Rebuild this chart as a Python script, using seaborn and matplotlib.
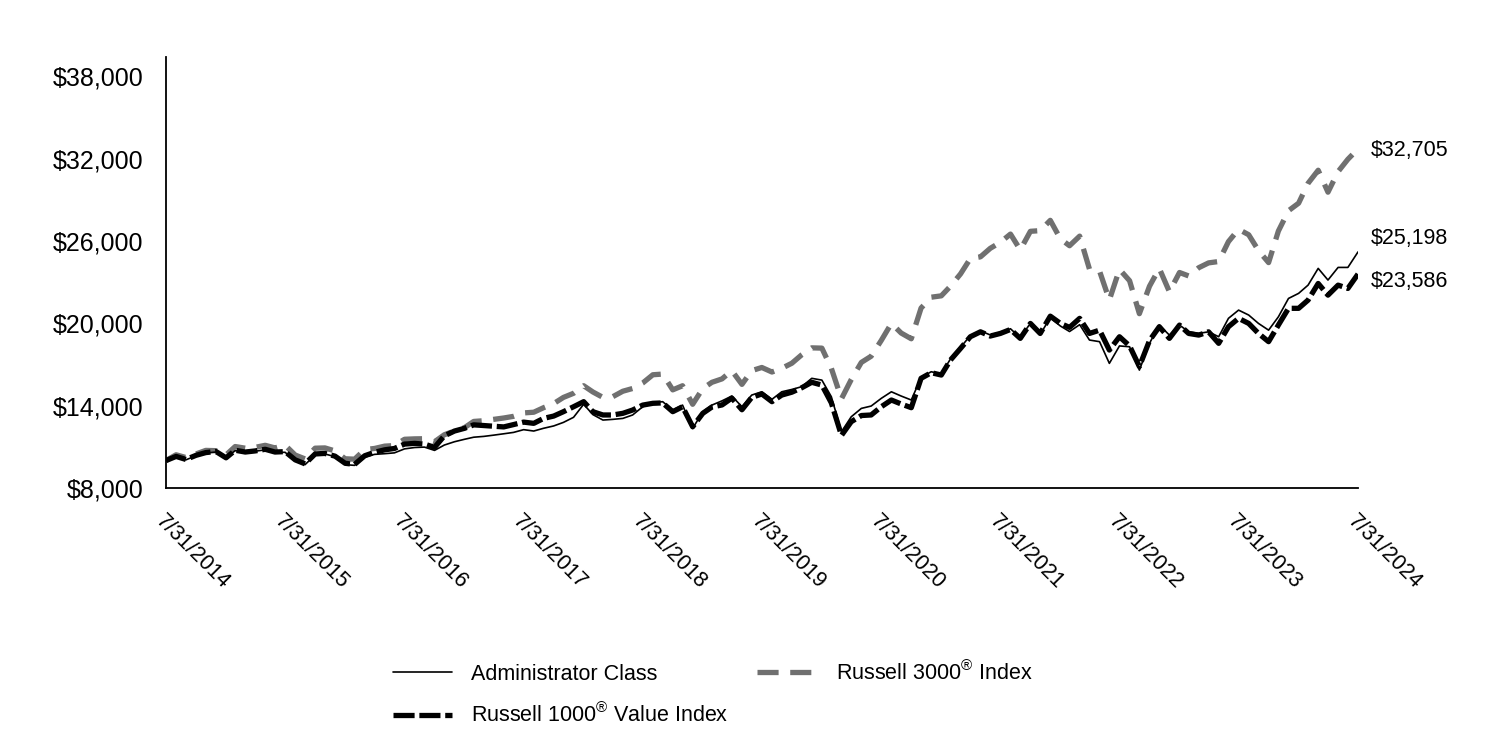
import numpy as np
import pandas as pd
import matplotlib
matplotlib.use("Agg")
import matplotlib.pyplot as plt
from matplotlib.lines import Line2D
import seaborn as sns

# ---------------- data (growth of $10,000, month-end values) ----------------
start_date = "2014-07-31"
end_date = "2024-07-31"

admin_class = [
    10000, 10250, 10050, 10350, 10550, 10620, 10200, 10720, 10600, 10680, 10780, 10600, 10600,
    9980, 9700, 10400, 10480, 10280, 9700, 9650, 10250, 10450, 10500, 10560, 10850,
    10950, 10980, 10740, 11130, 11370, 11550, 11700, 11760, 11850, 11950, 12050, 12250,
    12150, 12350, 12520, 12780, 13150, 14100, 13350, 12950, 13000, 13070, 13320, 13920,
    14200, 14290, 13680, 14040, 12340, 13560, 14040, 14350, 14700, 13920, 14770, 15010,
    14460, 15010, 15180, 15380, 15990, 15860, 14650, 12100, 13190, 13800, 13970, 14530,
    15010, 14700, 14410, 16050, 16470, 16300, 17400, 18250, 19100, 19450, 19150, 19350,
    19600, 18950, 20000, 19200, 20400, 19800, 19400, 19900, 18780, 18660, 17080, 18350,
    18290, 16590, 18540, 19870, 19140, 19870, 19380, 19260, 19380, 19020, 20360, 20960,
    20600, 19990, 19500, 20470, 21810, 22180, 22780, 24000, 23150, 24070, 24070, 25198,
]

russell_1000_value = [
    10000, 10300, 10080, 10380, 10580, 10660, 10200, 10750, 10620, 10700, 10820, 10620, 10650,
    10050, 9760, 10480, 10520, 10320, 9800, 9720, 10350, 10600, 10780, 10880, 11200,
    11250, 11200, 10960, 11800, 12150, 12350, 12600, 12550, 12500, 12450, 12620, 12800,
    12710, 13070, 13240, 13560, 13920, 14290, 13560, 13320, 13320, 13440, 13680, 14040,
    14170, 14200, 13560, 13920, 12460, 13440, 13900, 14050, 14550, 13700, 14600, 14850,
    14290, 14770, 14980, 15300, 15700, 15500, 14200, 11830, 12830, 13280, 13320, 13920,
    14410, 14120, 13850, 15990, 16400, 16230, 17320, 18170, 19020, 19380, 19070, 19260,
    19550, 18900, 19990, 19260, 20520, 19990, 19700, 20360, 19260, 19500, 18050, 19020,
    18350, 16850, 18740, 19750, 18900, 19870, 19260, 19140, 19380, 18540, 19750, 20360,
    19990, 19260, 18660, 19870, 21090, 21090, 21690, 22900, 22050, 22780, 22540, 23586,
]

russell_3000 = [
    10000, 10420, 10220, 10480, 10740, 10720, 10410, 11020, 10900, 10960, 11110, 10920, 11120,
    10400, 10120, 10900, 10920, 10700, 10130, 10100, 10800, 10880, 11050, 11090, 11550,
    11580, 11590, 11370, 11880, 12150, 12400, 12850, 12900, 13000, 13100, 13220, 13470,
    13520, 13850, 14150, 14600, 14900, 15450, 15000, 14600, 14650, 15050, 15250, 15650,
    16250, 16300, 15150, 15450, 14100, 15250, 15700, 15950, 16550, 15550, 16550, 16780,
    16450, 16720, 17090, 17700, 18210, 18190, 16720, 14500, 15900, 17150, 17600, 18750,
    19990, 19290, 18870, 21110, 21900, 22000, 22700, 23600, 24720, 24840, 25460, 25900,
    26500, 25350, 26700, 26750, 27500, 26150, 25650, 26350, 23950, 23800, 21700, 23930,
    23100, 20700, 22700, 24000, 22300, 23700, 23450, 24050, 24400, 24500, 25950, 26850,
    26450, 25300, 24420, 26720, 28200, 28750, 30200, 31150, 29550, 31050, 31950, 32705,
]

year_ticks = list(range(2014, 2025))
y_ticks = [8000, 14000, 20000, 26000, 32000, 38000]
legend_labels = [
    "Administrator Class",
    r"Russell 1000$^{\circledR}$ Value Index",
    r"Russell 3000$^{\circledR}$ Index",
]

# ---------------- styling ----------------
sns.set_theme(style="white")
plt.rcParams["font.family"] = ["Liberation Sans", "DejaVu Sans"]
plt.rcParams["mathtext.fontset"] = "custom"
plt.rcParams["mathtext.rm"] = "Liberation Sans"
plt.rcParams["mathtext.it"] = "Liberation Sans:italic"
plt.rcParams["mathtext.bf"] = "Liberation Sans:bold"
plt.rcParams["text.color"] = "black"

FS = 15.5
FS_Y = 18
GRAY = "#707070"
LW_THICK = 3.8
LW_THIN = 1.2
R3_DASH = (4.0, 2.2)
R1_DASH = (4.0, 0.9)

try:
    dates = pd.date_range(start_date, end_date, freq="ME")
except ValueError:
    dates = pd.date_range(start_date, end_date, freq="M")

df = pd.DataFrame({
    "date": dates,
    "admin": admin_class,
    "r1000v": russell_1000_value,
    "r3000": russell_3000,
})

fig = plt.figure(figsize=(15, 7.32), dpi=100)
ax = fig.add_axes([166 / 1500, 1 - 488 / 732, (1358 - 166) / 1500, (488 - 57) / 732])

sns.lineplot(data=df, x="date", y="r3000", ax=ax, color=GRAY, linewidth=LW_THICK,
             linestyle=(0, R3_DASH), zorder=2, legend=False)
sns.lineplot(data=df, x="date", y="r1000v", ax=ax, color="black", linewidth=LW_THICK,
             linestyle=(0, R1_DASH), zorder=3, legend=False)
sns.lineplot(data=df, x="date", y="admin", ax=ax, color="black", linewidth=LW_THIN,
             zorder=4, legend=False)

ax.set_xlim(dates[0], dates[-1])
ax.set_ylim(8000, 39400)
ax.set_yticks(y_ticks)
ax.set_yticklabels([f"${v:,.0f}" for v in y_ticks], fontsize=FS_Y)

tick_dates = [pd.Timestamp(f"{y}-07-31") for y in year_ticks]
ax.set_xticks(tick_dates)
ax.set_xticklabels([f"{d.month}/{d.day}/{d.year}" for d in tick_dates], fontsize=FS,
                   rotation=-45, ha="left", va="top", rotation_mode="anchor")

ax.set_xlabel("")
ax.set_ylabel("")
for s in ["top", "right"]:
    ax.spines[s].set_visible(False)
for s in ["left", "bottom"]:
    ax.spines[s].set_color("black")
    ax.spines[s].set_linewidth(1.3)
ax.tick_params(axis="both", which="major", direction="out", length=7, width=1.3,
               color="black", labelcolor="black")
ax.tick_params(axis="x", pad=9)
ax.tick_params(axis="y", pad=9)
ax.grid(False)

# end-of-line value labels
last = dates[-1]
ax.annotate(f"${russell_3000[-1]:,.0f}", xy=(last, russell_3000[-1]), xytext=(9, -1.5),
            textcoords="offset points", va="center", ha="left", fontsize=FS, color="black",
            annotation_clip=False)
ax.annotate(f"${admin_class[-1]:,.0f}", xy=(last, admin_class[-1]), xytext=(9, 9.5),
            textcoords="offset points", va="center", ha="left", fontsize=FS, color="black",
            annotation_clip=False)
ax.annotate(f"${russell_1000_value[-1]:,.0f}", xy=(last, russell_1000_value[-1]), xytext=(9, -5),
            textcoords="offset points", va="center", ha="left", fontsize=FS, color="black",
            annotation_clip=False)

# legend (column-first order: Admin, R1000V | R3000)
handles = [
    Line2D([], [], color="black", linewidth=LW_THIN),
    Line2D([], [], color="black", linewidth=LW_THICK, linestyle=(0, R1_DASH)),
    Line2D([], [], color=GRAY, linewidth=LW_THICK, linestyle=(0, R3_DASH)),
]
leg = fig.legend(handles, legend_labels, loc="center", bbox_to_anchor=(0.475, 0.052), ncol=2,
                 frameon=False, fontsize=FS, handlelength=2.75, handletextpad=0.9,
                 columnspacing=1.3, labelspacing=0.85)
for t in leg.get_texts():
    t.set_color("black")

fig.savefig("out.png", dpi=100, facecolor="white")
